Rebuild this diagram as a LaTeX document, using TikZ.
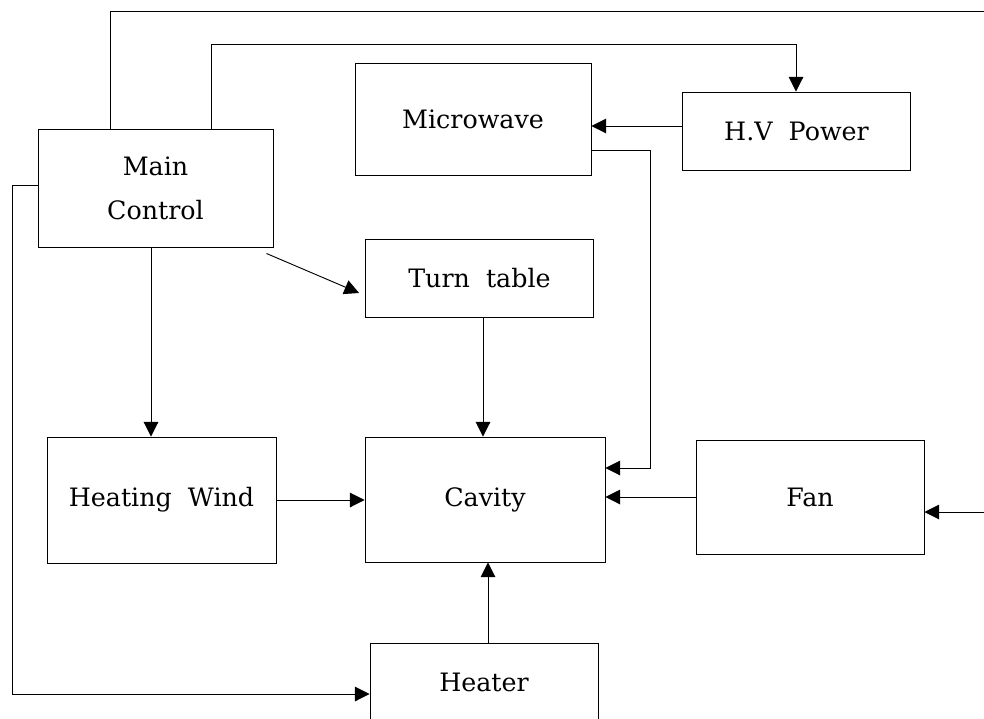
\documentclass[tikz,border=0pt]{standalone}
\usepackage{fontspec}
\setmainfont{DejaVu Serif}
\usetikzlibrary{arrows.meta}

\tikzset{
  blk/.style={draw, line width=0.7pt, inner sep=0pt, align=center,
    font=\fontsize{19}{33}\selectfont},
  wire/.style={line width=0.7pt},
  arr/.style={wire, -{Triangle[length=11pt,width=11pt]}}
}

\begin{document}
\begin{tikzpicture}[x=0.75pt,y=-0.75pt]
    \clip (0,0) rectangle (984,718);
    \fill[white] (0,0) rectangle (984,718);

    % blocks
    \node[blk, minimum width=176.25pt, minimum height=88.5pt] (main) at (155.5,188) {Main\\Control};
    \node[blk, minimum width=177pt, minimum height=84pt] (micro) at (473,119) {Microwave};
    \node[blk, minimum width=171pt, minimum height=58.5pt] (hv) at (796.5,131) {H.V\ \ Power};
    \node[blk, minimum width=171pt, minimum height=58.5pt] (turn) at (479.5,278.5) {Turn\ \ table};
    \node[blk, minimum width=180pt, minimum height=93.75pt] (cavity) at (485,499.5) {Cavity};
    \node[blk, minimum width=171.75pt, minimum height=94.5pt] (heatw) at (161.5,500) {Heating\ \ Wind};
    \node[blk, minimum width=171pt, minimum height=85.5pt] (fan) at (810,497) {Fan};
    \node[blk, minimum width=171pt, minimum height=58.5pt] (heater) at (484,682) {Heater};

    % free ends
    \coordinate (topout) at (984,11);
    \coordinate (fanin) at (984,512);

    % control lines
    \draw[wire] (main.north -| 110,0) |- (topout);
    \draw[arr] (main.north -| 211,0) -- (211,44) -| (hv.north -| 796,0);
    \draw[arr] (main.west |- 0,185) -| (12,694) -- (heater.west |- 0,694);
    \draw[arr] (main.south -| 151,0) -- (heatw.north -| 151,0);
    \draw[arr] ([shift={(-7,6)}]main.south east) -- ([shift={(-6,14.5)}]turn.west);

    % into the cavity
    \draw[arr] (hv.west |- 0,126) -- (micro.east |- 0,126);
    \draw[arr] (micro.east |- 0,150) -| (650,468) -- (cavity.east |- 0,468);
    \draw[arr] (fan.west) -- (cavity.east |- fan.west);
    \draw[arr] (fanin) -- (fan.east |- fanin);
    \draw[arr] (turn.south -| 483,0) -- (cavity.north -| 483,0);
    \draw[arr] (heatw.east) -- (cavity.west |- heatw.east);
    \draw[arr] (heater.north -| 488,0) -- (cavity.south -| 488,0);
\end{tikzpicture}
\end{document}
